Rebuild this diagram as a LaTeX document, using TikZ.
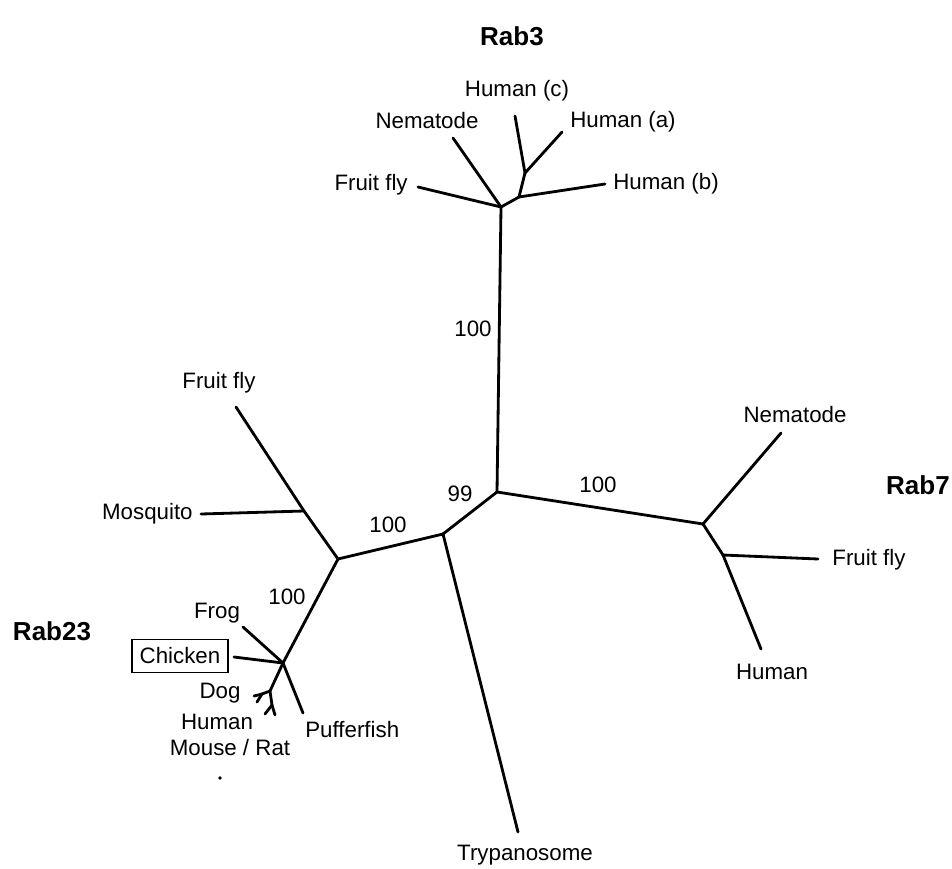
\documentclass[tikz,border=0pt]{standalone}
\usepackage{fontspec}
\setmainfont{Liberation Sans}
\usepackage{tikz}
\usetikzlibrary{positioning}
\tikzset{branch/.style = {line width=1.6pt, line cap=round, line join=round},
         taxon/.style = {inner sep=0pt, font=\fontsize{12.7}{14}\selectfont},
         family/.style = {inner sep=0pt, font=\fontsize{14.8}{17}\selectfont\bfseries}}

\begin{document}
\begin{tikzpicture}[x=0.02cm, y=-0.02cm]
                    \useasboundingbox (0,0) rectangle (952,868);
                    % inner nodes
                    \coordinate (c)   at (497,492);
                    \coordinate (r3)  at (501,207);
                    \coordinate (r3a) at (519,197);
                    \coordinate (r3b) at (525,173);
                    \coordinate (r7)  at (703,524);
                    \coordinate (r7a) at (723,555);
                    \coordinate (t)   at (443,534);
                    \coordinate (a)   at (338,559);
                    \coordinate (m)   at (304,511);
                    \coordinate (v)   at (283,663);
                    \coordinate (n1)  at (270,691);
                    \coordinate (dg)  at (262,694);
                    \coordinate (n2)  at (272,705);
                    % leaf ends
                    \coordinate (fly3) at (418,187);
                    \coordinate (nem3) at (453,138);
                    \coordinate (hb3)  at (605,184);
                    \coordinate (hc3)  at (515,116);
                    \coordinate (ha3)  at (562,132);
                    \coordinate (nem7) at (781,433);
                    \coordinate (fly7) at (818,559);
                    \coordinate (hum7) at (761,649);
                    \coordinate (tryp) at (518,832);
                    \coordinate (fly23) at (236,407);
                    \coordinate (mosq) at (201,514);
                    \coordinate (frog) at (243,627);
                    \coordinate (chk)  at (234,657);
                    \coordinate (puf)  at (303,713);
                    \coordinate (dog1) at (254,696);
                    \coordinate (dog2) at (257,702);
                    \coordinate (hm1)  at (265,714);
                    \coordinate (hm2)  at (275,715);
                    \foreach \x/\y in {r3/c, c/r7, c/t, t/a, t/tryp,
                                       r3/fly3, r3/nem3, r3/r3a, r3a/hb3, r3a/r3b, r3b/hc3, r3b/ha3,
                                       r7/nem7, r7/r7a, r7a/fly7, r7a/hum7,
                                       a/m, m/fly23, m/mosq, a/v,
                                       v/frog, v/chk, v/puf, v/n1, n1/dg, dg/dog1, dg/dog2,
                                       n1/n2, n2/hm1, n2/hm2}
                        \draw[branch] (\x) -- (\y);
                    % labels
                    \node[family] (f3)  at (512,36)  {Rab3};
                    \node[family] (f7)  at (918,485) {Rab7};
                    \node[family] (f23) at (52,631)  {Rab23};
                    \node[taxon, anchor=east] (lfly3) at (408,185) {Fruit fly};
                    \node[taxon] (lnem3) at (427,121) {Nematode};
                    \node[taxon] (lhc3)  at (517,91)  {Human (c)};
                    \node[taxon] (lha3)  at (623,122) {Human (a)};
                    \node[taxon, anchor=west] (lhb3) at (613,184) {Human (b)};
                    \node[taxon] (lnem7) at (795,415) {Nematode};
                    \node[taxon, anchor=west] (lfly7) at (832,560) {Fruit fly};
                    \node[taxon] (lhum7) at (772,672) {Human};
                    \node[taxon] (ltryp) at (525,855) {Trypanosome};
                    \node[taxon] (lfly23) at (219,383) {Fruit fly};
                    \node[taxon, anchor=east] (lmosq) at (193,514) {Mosquito};
                    \node[taxon] (lfrog) at (217,613) {Frog};
                    \node[taxon, draw, line width=0.9pt, inner xsep=4.3pt, minimum height=0.66cm] (lchk) at (180,656) {Chicken};
                    \node[taxon] (ldog)  at (220,693) {Dog};
                    \node[taxon] (lhum23) at (217,722) {Human};
                    \node[taxon] (lmr)   at (230,748) {Mouse / Rat};
                    \node[taxon, anchor=west] (lpuf) at (305,730) {Pufferfish};
                    % bootstrap values
                    \node[taxon] (b1) at (473,329) {100};
                    \node[taxon] (b2) at (598,485) {100};
                    \node[taxon] (b3) at (460,494) {99};
                    \node[taxon] (b4) at (388,525) {100};
                    \node[taxon] (b5) at (287,597) {100};
                    \fill (220,778) circle (1.8);
                \end{tikzpicture}
\end{document}
